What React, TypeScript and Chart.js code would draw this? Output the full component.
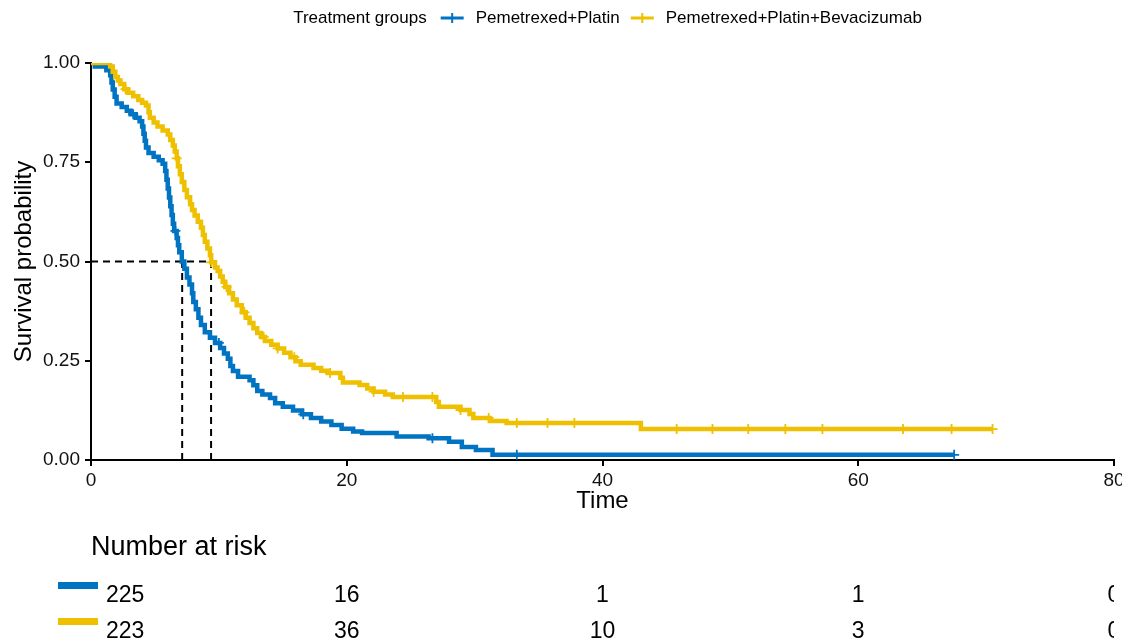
import React, { useEffect, useRef } from 'react';
import { Chart, registerables } from 'chart.js';

Chart.register(...registerables);

const FONT = '"Liberation Sans", Arial, Helvetica, sans-serif';

const groupNames = ['Pemetrexed+Platin', 'Pemetrexed+Platin+Bevacizumab'];
const groupColors = ['#0073C2', '#EFC000'];
const legendTitle = 'Treatment groups';

// Kaplan-Meier step points [time, survival] (value after the drop at that time)
const blueCurve: [number, number][] = [
  [0, 1.0], [0.3, 0.991], [1.2, 0.982], [1.5, 0.969], [1.6, 0.951], [1.7, 0.933], [1.85, 0.915],
  [2.0, 0.898], [2.4, 0.889], [2.8, 0.88], [3.1, 0.871], [3.5, 0.862], [3.8, 0.853], [4.0, 0.84],
  [4.1, 0.822], [4.2, 0.804], [4.3, 0.787], [4.5, 0.773], [4.9, 0.764], [5.3, 0.755], [5.6, 0.746],
  [5.8, 0.728], [5.9, 0.706], [6.0, 0.684], [6.1, 0.661], [6.2, 0.639], [6.3, 0.617], [6.4, 0.595],
  [6.5, 0.577], [6.7, 0.559], [6.8, 0.541], [6.9, 0.523], [7.1, 0.5], [7.3, 0.482], [7.5, 0.46],
  [7.7, 0.442], [7.9, 0.42], [8.0, 0.398], [8.2, 0.38], [8.4, 0.358], [8.6, 0.34], [8.9, 0.322],
  [9.3, 0.308], [9.7, 0.295], [10.1, 0.282], [10.4, 0.268], [10.7, 0.255], [10.9, 0.237],
  [11.1, 0.224], [11.5, 0.21], [12.4, 0.201], [12.7, 0.188], [13.0, 0.174], [13.4, 0.165],
  [14.0, 0.156], [14.4, 0.143], [15.0, 0.134], [15.8, 0.125], [16.5, 0.115], [17.2, 0.106],
  [18.0, 0.097], [18.8, 0.088], [19.6, 0.079], [20.5, 0.072], [21.2, 0.068], [23.9, 0.059],
  [26.4, 0.055], [28.0, 0.046], [29.0, 0.033], [30.1, 0.025], [31.4, 0.013], [67.5, 0.013],
];

const yellowCurve: [number, number][] = [
  [0, 1.0], [1.5, 0.991], [1.7, 0.978], [1.9, 0.965], [2.1, 0.956], [2.3, 0.947], [2.6, 0.934],
  [2.9, 0.925], [3.3, 0.916], [3.7, 0.907], [4.0, 0.9], [4.3, 0.893], [4.5, 0.876], [4.6, 0.862],
  [4.9, 0.85], [5.2, 0.84], [5.6, 0.83], [6.0, 0.82], [6.2, 0.806], [6.4, 0.792], [6.55, 0.777],
  [6.7, 0.76], [6.8, 0.74], [6.95, 0.72], [7.1, 0.7], [7.3, 0.68], [7.5, 0.662], [7.75, 0.644],
  [7.9, 0.63], [8.1, 0.616], [8.35, 0.6], [8.6, 0.585], [8.75, 0.567], [8.9, 0.55], [9.1, 0.533],
  [9.3, 0.516], [9.4, 0.498], [9.7, 0.485], [9.9, 0.476], [10.1, 0.462], [10.3, 0.449],
  [10.5, 0.436], [10.8, 0.42], [11.1, 0.404], [11.4, 0.39], [11.8, 0.372], [12.1, 0.358],
  [12.4, 0.345], [12.7, 0.332], [13.0, 0.32], [13.3, 0.31], [13.6, 0.3], [14.1, 0.29],
  [14.6, 0.281], [15.1, 0.27], [15.6, 0.259], [16.0, 0.249], [16.4, 0.24], [17.4, 0.232],
  [18.0, 0.225], [18.5, 0.219], [19.5, 0.207], [19.7, 0.195], [21.0, 0.189], [21.6, 0.18],
  [22.1, 0.172], [23.0, 0.165], [23.6, 0.159], [27.0, 0.146], [27.2, 0.134], [28.9, 0.126],
  [29.6, 0.116], [29.9, 0.106], [31.2, 0.098], [32.5, 0.093], [43.0, 0.078], [70.5, 0.078],
];

const blueCensorTimes = [3.3, 6.6, 10.0, 16.6, 26.7, 33.3, 67.5];
const yellowCensorTimes = [
  2.7, 6.7, 9.4, 10.6, 12.0, 13.5, 14.6, 15.9, 18.7, 22.1, 24.4, 26.7, 28.9, 31.1, 33.3,
  35.7, 37.8, 45.8, 48.6, 51.4, 54.3, 57.2, 63.5, 67.3, 70.5,
];

const medianTimes = [7.13, 9.39];
const medianLevel = 0.5;

const riskTimes = [0, 20, 40, 60, 80];
const riskBlue = [225, 16, 1, 1, 0];
const riskYellow = [223, 36, 10, 3, 0];
const riskTitle = 'Number at risk';

function survAt(curve: [number, number][], t: number): number {
  let s = curve[0][1];
  for (const [ti, si] of curve) {
    if (ti <= t) s = si;
    else break;
  }
  return s;
}

const legendPlugin = {
  id: 'kmLegend',
  afterDraw(chart: any) {
    const { ctx, chartArea } = chart;
    ctx.save();
    ctx.font = `17px ${FONT}`;
    ctx.textBaseline = 'middle';
    ctx.textAlign = 'left';
    const markerW = 23;
    const titleW = ctx.measureText(legendTitle).width;
    const textWs = groupNames.map((n) => ctx.measureText(n).width);
    let total = titleW;
    textWs.forEach((w, i) => {
      total += (i === 0 ? 14 : 11) + markerW + 12 + w;
    });
    const cx = (chartArea.left + chartArea.right) / 2 + 5;
    const y = chartArea.top - 45;
    let x = cx - total / 2;
    ctx.fillStyle = '#000';
    ctx.fillText(legendTitle, x, y);
    x += titleW;
    groupNames.forEach((n, i) => {
      x += i === 0 ? 14 : 11;
      ctx.strokeStyle = groupColors[i];
      ctx.lineWidth = 3;
      ctx.beginPath();
      ctx.moveTo(x, y);
      ctx.lineTo(x + markerW, y);
      ctx.stroke();
      ctx.lineWidth = 2;
      ctx.beginPath();
      ctx.moveTo(x + markerW / 2, y - 5);
      ctx.lineTo(x + markerW / 2, y + 5);
      ctx.stroke();
      x += markerW + 12;
      ctx.fillStyle = '#000';
      ctx.fillText(n, x, y);
      x += textWs[i];
    });
    ctx.restore();
  },
};

const riskPlugin = {
  id: 'riskTable',
  afterDraw(chart: any) {
    const { ctx, chartArea, scales } = chart;
    const xs = scales.x;
    ctx.save();
    ctx.beginPath();
    ctx.rect(0, chartArea.bottom + 60, chartArea.right, chart.height);
    ctx.clip();
    ctx.textBaseline = 'middle';
    ctx.fillStyle = '#000';
    ctx.font = `27px ${FONT}`;
    ctx.textAlign = 'left';
    ctx.fillText(riskTitle, chartArea.left, chartArea.bottom + 88);
    const rows = [riskBlue, riskYellow];
    rows.forEach((vals, r) => {
      const y = chartArea.bottom + 136 + r * 36;
      ctx.fillStyle = groupColors[r];
      ctx.fillRect(chartArea.left - 33, y - 14, 40, 7);
      ctx.fillStyle = '#000';
      ctx.font = `23px ${FONT}`;
      vals.forEach((v, i) => {
        if (i === 0) {
          ctx.textAlign = 'left';
          ctx.fillText(String(v), chartArea.left + 15, y);
        } else {
          ctx.textAlign = 'center';
          ctx.fillText(String(v), xs.getPixelForValue(riskTimes[i]), y);
        }
      });
    });
    ctx.restore();
  },
};

export default function App() {
  const ref = useRef<HTMLCanvasElement | null>(null);

  useEffect(() => {
    if (!ref.current) return;
    Chart.defaults.font.family = FONT;
    const toPts = (c: [number, number][]) => c.map(([x, y]) => ({ x, y }));
    const censorPts = (times: number[], curve: [number, number][]) =>
      times.map((t) => ({ x: t, y: survAt(curve, t) }));
    const maxMedian = Math.max(...medianTimes);

    const dashStyle = {
      borderColor: '#000',
      borderWidth: 2,
      borderDash: [7, 5],
      pointRadius: 0,
      fill: false,
      stepped: false,
    };

    const chart = new Chart(ref.current, {
      type: 'line',
      data: {
        datasets: [
          {
            label: groupNames[1] + ' censor',
            data: censorPts(yellowCensorTimes, yellowCurve),
            showLine: false,
            pointStyle: 'cross',
            pointRadius: 5,
            pointBorderWidth: 1.8,
            pointBorderColor: groupColors[1],
            borderColor: groupColors[1],
          } as any,
          {
            label: groupNames[0] + ' censor',
            data: censorPts(blueCensorTimes, blueCurve),
            showLine: false,
            pointStyle: 'cross',
            pointRadius: 5,
            pointBorderWidth: 1.8,
            pointBorderColor: groupColors[0],
            borderColor: groupColors[0],
          } as any,
          {
            label: groupNames[1],
            data: toPts(yellowCurve),
            borderColor: groupColors[1],
            borderWidth: 4.5,
            stepped: true,
            pointRadius: 0,
            fill: false,
          },
          {
            label: groupNames[0],
            data: toPts(blueCurve),
            borderColor: groupColors[0],
            borderWidth: 4.5,
            stepped: true,
            pointRadius: 0,
            fill: false,
          },
          {
            label: 'median h',
            data: [
              { x: 0, y: medianLevel },
              { x: maxMedian, y: medianLevel },
            ],
            ...dashStyle,
          } as any,
          ...medianTimes.map(
            (t) =>
              ({
                label: 'median v',
                data: [
                  { x: t, y: 0 },
                  { x: t, y: medianLevel },
                ],
                ...dashStyle,
              }) as any
          ),
        ],
      },
      options: {
        animation: false,
        responsive: false,
        devicePixelRatio: 1,
        layout: { padding: { left: 0, top: 63, right: 46, bottom: 126 } },
        plugins: {
          legend: { display: false },
          tooltip: { enabled: false },
          title: { display: false },
        },
        scales: {
          x: {
            type: 'linear',
            min: 0,
            max: 80,
            ticks: {
              stepSize: 20,
              color: '#111',
              font: { size: 19, family: FONT },
              padding: 3,
              maxRotation: 0,
            },
            grid: {
              display: true,
              drawOnChartArea: false,
              drawTicks: true,
              tickLength: 6,
              color: '#000',
              lineWidth: 2,
            },
            border: { display: true, color: '#000', width: 2 },
            title: {
              display: true,
              text: 'Time',
              color: '#000',
              font: { size: 24, family: FONT },
              padding: { top: 0, bottom: 0 },
            },
            afterFit: (s: any) => {
              s.height = 56;
              s.paddingLeft = 0;
              s.paddingRight = 0;
            },
          },
          y: {
            type: 'linear',
            min: 0,
            max: 1,
            ticks: {
              stepSize: 0.25,
              color: '#111',
              font: { size: 19, family: FONT },
              padding: 5,
              callback: (v: any) => Number(v).toFixed(2),
            },
            grid: {
              display: true,
              drawOnChartArea: false,
              drawTicks: true,
              tickLength: 6,
              color: '#000',
              lineWidth: 2,
            },
            border: { display: true, color: '#000', width: 2 },
            title: {
              display: true,
              text: 'Survival probability',
              color: '#000',
              font: { size: 24, family: FONT },
              padding: { top: 10, bottom: 0 },
            },
            afterFit: (s: any) => {
              s.width = 91;
              s.paddingTop = 0;
              s.paddingBottom = 0;
            },
          },
        },
      } as any,
      plugins: [legendPlugin, riskPlugin],
    });
    return () => chart.destroy();
  }, []);

  return (
    <div
      style={{
        position: 'fixed',
        left: 0,
        top: 0,
        width: 1122,
        height: 642,
        overflow: 'hidden',
        background: '#fff',
      }}
    >
      <canvas ref={ref} width={1160} height={642} style={{ display: 'block' }} />
    </div>
  );
}
